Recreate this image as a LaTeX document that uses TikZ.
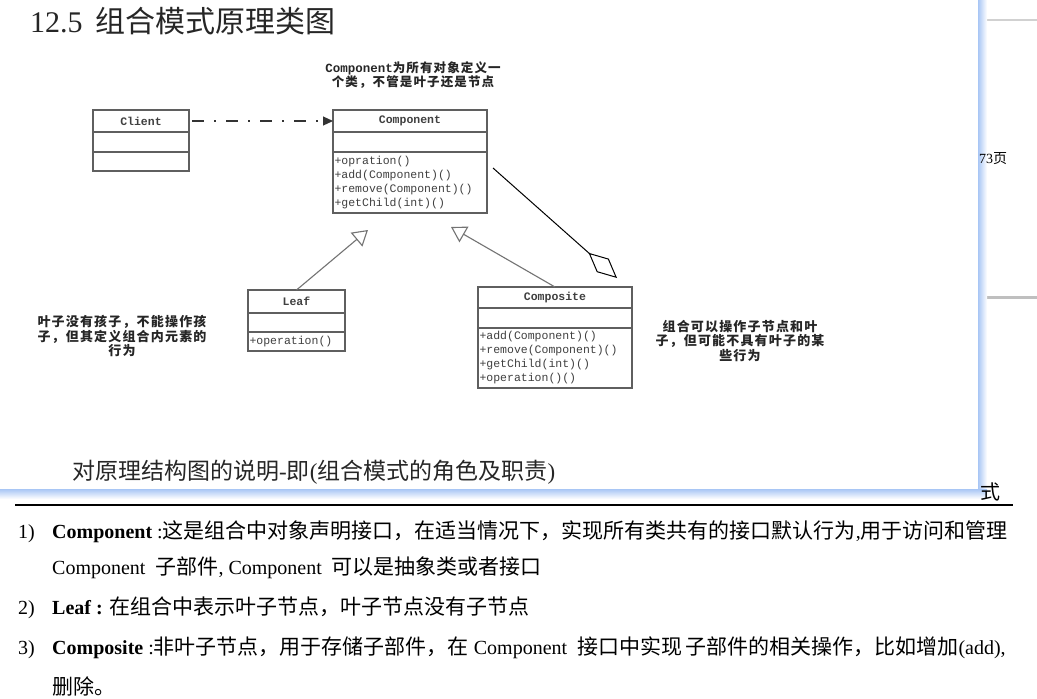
\documentclass[tikz,border=0pt]{standalone}
\usepackage{fontspec}
\setmainfont{Liberation Serif}
\newfontfamily\cjk{Noto Sans CJK SC}
\newfontfamily\cjkbody[Scale=1.05]{Noto Sans CJK SC}
\newfontfamily\cjknote[LetterSpace=9]{Noto Sans CJK SC}
\newfontfamily\umlmono{Liberation Mono}
\usetikzlibrary{positioning,arrows.meta}
\usepackage{xcolor}
\definecolor{umlgray}{RGB}{95,95,95}
\definecolor{shadowblue}{RGB}{168,198,245}
\newcommand{\zh}[1]{{\cjk #1}}
\newcommand{\zb}[1]{{\cjkbody #1}}
\tikzset{
  umlhead/.style={
    rectangle,
    draw=umlgray,
    line width=1.2pt,
    outer sep=0pt,
    inner sep=0pt,
    anchor=north west,
    text=black!75,
    font=\umlmono\bfseries\fontsize{11.5}{14}\selectfont
  },
  umlrow/.style={
    rectangle,
    draw=umlgray,
    line width=1.2pt,
    outer sep=0pt,
    inner sep=0pt
  },
  umlops/.style={
    rectangle,
    draw=umlgray,
    line width=1.2pt,
    outer sep=0pt,
    inner xsep=1.5pt,
    inner ysep=0pt,
    align=left,
    text=black!75,
    font=\umlmono\fontsize{11.5}{14}\selectfont
  },
  umlnote/.style={
    align=center,
    inner sep=0pt,
    text=black!85,
    font=\cjknote\bfseries\fontsize{13}{14.5}\selectfont
  },
  itemtext/.style={
    anchor=base west,
    inner sep=0pt,
    font=\fontsize{20}{24}\selectfont
  },
  depend/.style={
    -{Triangle[length=10pt,width=9pt]},
    line width=1.1pt,
    draw=black!80,
    dash pattern=on 12pt off 10pt on 2pt off 10pt
  },
  inherit/.style={
    -{Triangle[open,length=15pt,width=18pt]},
    line width=1.1pt,
    draw=black!55
  },
  aggreg/.style={
    -{Diamond[open,length=38pt,width=18pt]},
    line width=1pt,
    draw=black
  }
}
\begin{document}
\begin{tikzpicture}[x=1pt,y=-1pt]
  \useasboundingbox (0,0) rectangle (1037,699);
  % page behind the slide
  \draw[black!18, line width=2pt] (978,20) -- (1037,20);
  \draw[black!25, line width=3pt] (978,297) -- (1037,297);
  \draw[black, line width=1.5pt] (15,505) -- (1013,505);

  % slide
  \fill[white] (0,0) rectangle (978,489);
  \shade[left color=shadowblue, right color=white] (978,0) rectangle (987,489);
  \shade[top color=shadowblue, bottom color=white] (0,489) rectangle (987,499);
  \node (pagenum) [anchor=west, inner sep=0pt, font=\fontsize{14}{16}\selectfont] at (979,159) {73\zh{页}};
  \node (pagechar) [anchor=west, inner sep=0pt, font=\fontsize{20}{24}\selectfont] at (980,492) {\zh{式}};

  \node (title) [anchor=west, inner sep=0pt, text=black!85, font=\fontsize{30}{36}\selectfont] at (30,21) {12.5\hspace{13pt}\zh{组合模式原理类图}};

  \node (client) [umlhead, minimum width=96, minimum height=22] at (93,110) {Client};
  \node (clientattr) [umlrow, minimum width=96, minimum height=20, below=0pt of client] {};
  \node (clientops) [umlrow, minimum width=96, minimum height=19, below=0pt of clientattr] {};

  \node (component) [umlhead, minimum width=154, minimum height=22] at (333,110) {Component};
  \node (componentattr) [umlrow, minimum width=154, minimum height=20, below=0pt of component] {};
  \node (componentops) [umlops, text width=151, minimum height=61, below=0pt of componentattr] {+opration()\\+add(Component)()\\+remove(Component)()\\+getChild(int)()};

  \node (leaf) [umlhead, minimum width=97, minimum height=23] at (248,290) {Leaf};
  \node (leafattr) [umlrow, minimum width=97, minimum height=19, below=0pt of leaf] {};
  \node (leafops) [umlops, text width=94, minimum height=19, below=0pt of leafattr] {+operation()};

  \node (composite) [umlhead, minimum width=154, minimum height=21] at (478,287) {Composite};
  \node (compositeattr) [umlrow, minimum width=154, minimum height=20, below=0pt of composite] {};
  \node (compositeops) [umlops, text width=151, minimum height=60, below=0pt of compositeattr] {+add(Component)()\\+remove(Component)()\\+getChild(int)()\\+operation()()};

  \node (componentnote) [umlnote, font=\cjknote\bfseries\fontsize{12.5}{14}\selectfont] at (413,75) {{\umlmono Component}为所有对象定义一\\个类，不管是叶子还是节点};
  \node (leafnote) [umlnote] at (122,336) {叶子没有孩子，不能操作孩\\子，但其定义组合内元素的\\行为};
  \node (compositenote) [umlnote] at (740,341) {组合可以操作子节点和叶\\子，但可能不具有叶子的某\\些行为};

  \coordinate (leaftip) at (368,230);
  \coordinate (compositetip) at (451,227);
  \draw[depend, shorten <=3pt] (client.east) -- (component.west);
  \draw[inherit] (leaf.north) -- (leaftip);
  \draw[inherit] (composite.north) -- (compositetip);
  \draw[aggreg] ([xshift=6pt,yshift=-16pt]componentops.north east) -- ([xshift=-15pt,yshift=9pt]composite.north east);

  \node (caption) [anchor=west, inner sep=0pt, text=black!85, font=\fontsize{23}{27}\selectfont] at (72,472) {\zh{对原理结构图的说明}-\zh{即}(\zh{组合模式的角色及职责})};

  % list below the slide
  \node (num1) [itemtext] at (18,538) {1)};
  \node (item1) [itemtext] at (52,538) {\textbf{Component} :\zb{这是组合中对象声明接口，在适当情况下，实现所有类共有的接口默认行为},\zb{用于访问和管理}};
  \node (item1b) [itemtext] at (52,574) {Component\ \ \zb{子部件}, Component\ \ \zb{可以是抽象类或者接口}};
  \node (num2) [itemtext] at (18,614) {2)};
  \node (item2) [itemtext] at (52,614) {\textbf{Leaf :} \zb{在组合中表示叶子节点，叶子节点没有子节点}};
  \node (num3) [itemtext] at (18,654) {3)};
  \node (item3) [itemtext] at (52,654) {\textbf{Composite} :\zb{非叶子节点，}\zb{用于存储子部件，}\zb{在} Component\ \ \zb{接口中实现}\,\zb{子部件的相关操作，比如增加}(add),};
  \node (item3b) [itemtext] at (52,694) {\zb{删除。}};
\end{tikzpicture}
\end{document}
